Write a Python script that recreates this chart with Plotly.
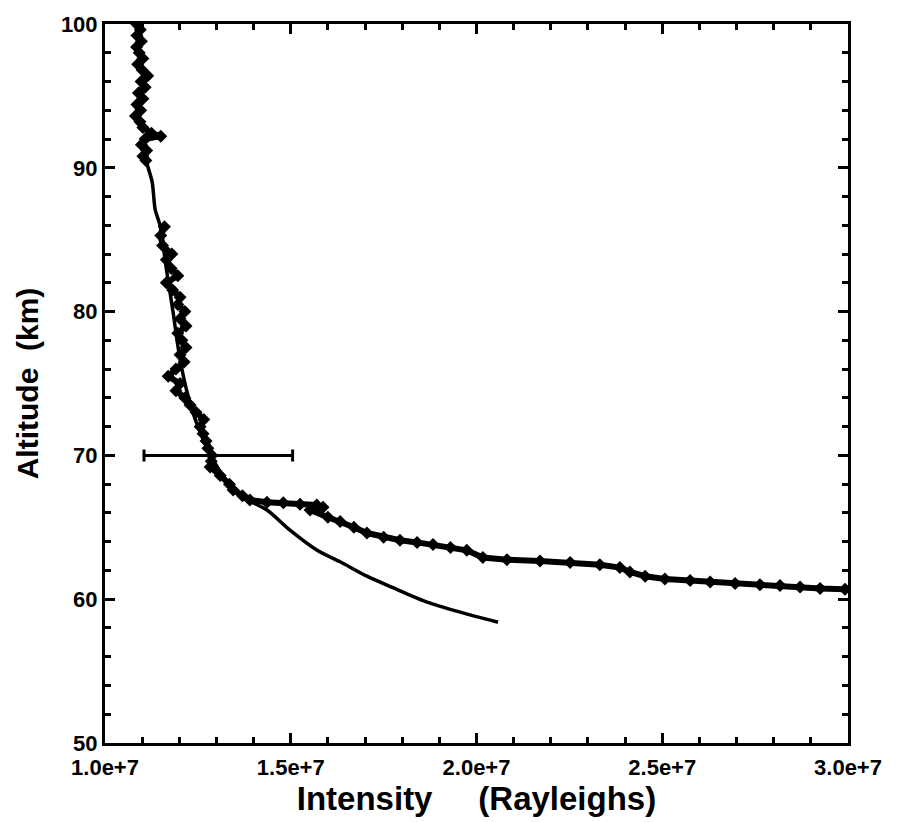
import plotly.graph_objects as go

# Measured profile (upper segment), intensity in Rayleighs, altitude in km
meas_upper_alt = [100.0, 99.6, 99.2, 98.8, 98.4, 98.0, 97.6, 97.2, 96.8, 96.4, 96.0, 95.6,
                  95.2, 94.8, 94.4, 94.0, 93.6, 93.2, 92.8, 92.4, 92.2, 92.0, 91.6, 91.2,
                  90.8, 90.5]
meas_upper_int = [1.085e7, 1.095e7, 1.086e7, 1.098e7, 1.085e7, 1.092e7, 1.102e7, 1.088e7,
                  1.100e7, 1.115e7, 1.097e7, 1.108e7, 1.090e7, 1.102e7, 1.086e7, 1.096e7,
                  1.082e7, 1.094e7, 1.102e7, 1.125e7, 1.150e7, 1.108e7, 1.098e7, 1.112e7,
                  1.102e7, 1.110e7]

# Measured profile (lower segment)
meas_lower_alt = [85.9, 85.3, 84.6, 84.0, 83.6, 83.0, 82.5, 82.0, 81.5, 81.0, 80.5, 80.0,
                  79.5, 79.0, 78.5, 78.0, 77.5, 77.0, 76.5, 76.0, 75.5, 75.0, 74.5, 74.0,
                  73.5, 73.0, 72.5, 72.0, 71.5, 71.0, 70.5, 70.0, 69.6, 69.2, 68.6, 68.0,
                  67.6, 67.2, 66.9, 66.75, 66.7, 66.6, 66.55, 66.4, 66.2, 65.7, 65.4, 65.0,
                  64.6, 64.3, 64.1, 63.95, 63.8, 63.6, 63.4, 62.9, 62.75, 62.65, 62.55, 62.4,
                  62.2, 61.9, 61.6, 61.4, 61.3, 61.2, 61.1, 61.0, 60.95, 60.85, 60.75, 60.7]
meas_lower_int = [1.160e7, 1.150e7, 1.155e7, 1.180e7, 1.165e7, 1.178e7, 1.196e7, 1.165e7,
                  1.182e7, 1.202e7, 1.196e7, 1.215e7, 1.202e7, 1.218e7, 1.196e7, 1.207e7,
                  1.218e7, 1.202e7, 1.213e7, 1.191e7, 1.170e7, 1.202e7, 1.191e7, 1.215e7,
                  1.229e7, 1.245e7, 1.266e7, 1.256e7, 1.264e7, 1.272e7, 1.277e7, 1.288e7,
                  1.286e7, 1.283e7, 1.310e7, 1.335e7, 1.345e7, 1.370e7, 1.390e7, 1.436e7,
                  1.480e7, 1.525e7, 1.570e7, 1.587e7, 1.552e7, 1.600e7, 1.633e7, 1.670e7,
                  1.705e7, 1.750e7, 1.794e7, 1.840e7, 1.883e7, 1.930e7, 1.974e7, 2.017e7,
                  2.082e7, 2.171e7, 2.252e7, 2.332e7, 2.386e7, 2.413e7, 2.454e7, 2.507e7,
                  2.575e7, 2.629e7, 2.696e7, 2.763e7, 2.817e7, 2.871e7, 2.925e7, 2.992e7]

# Model profile (smooth curve)
model_alt = [91.0, 90.3, 89.0, 87.1, 86.0, 83.0, 80.0, 77.0, 74.5, 72.0, 70.0, 68.5,
             67.1, 66.2, 64.8, 63.4, 62.6, 61.6, 60.8, 59.8, 59.1, 58.4]
model_int = [1.108e7, 1.113e7, 1.127e7, 1.135e7, 1.148e7, 1.165e7, 1.183e7, 1.200e7,
             1.220e7, 1.250e7, 1.285e7, 1.320e7, 1.371e7, 1.436e7, 1.498e7, 1.571e7,
             1.633e7, 1.705e7, 1.775e7, 1.867e7, 1.956e7, 2.058e7]

# Error bar at 70 km
err_alt = [70.0]
err_int = [1.305e7]
err_half = [0.2e7]

x_tickvals = [1.0e7, 1.5e7, 2.0e7, 2.5e7, 3.0e7]
x_ticktext = ["1.0e+7", "1.5e+7", "2.0e+7", "2.5e+7", "3.0e+7"]
y_tickvals = [50, 60, 70, 80, 90, 100]
x_range = [1.0e7, 3.0e7]
y_range = [50, 100]

fig = go.Figure()

fig.add_trace(go.Scatter(x=model_int, y=model_alt, mode="lines",
                         line=dict(color="black", width=3.5, shape="spline", smoothing=0.8),
                         showlegend=False))
for xs, ys in [(meas_upper_int, meas_upper_alt), (meas_lower_int, meas_lower_alt)]:
    fig.add_trace(go.Scatter(x=xs, y=ys, mode="lines+markers",
                             line=dict(color="black", width=6),
                             marker=dict(symbol="diamond", size=10, color="black"),
                             showlegend=False))
fig.add_trace(go.Scatter(x=err_int, y=err_alt, mode="markers",
                         marker=dict(size=1, color="black"),
                         error_x=dict(type="data", array=err_half, color="black",
                                      thickness=3, width=6),
                         showlegend=False))

font_b = dict(family="Liberation Sans, Arial, sans-serif", color="black", weight="bold")
tick_common = dict(ticks="inside", ticklen=10, tickwidth=3, tickcolor="black",
                   showgrid=False, zeroline=False, showline=True, linecolor="black",
                   linewidth=3, mirror="allticks")

fig.update_layout(
    width=901, height=822,
    margin=dict(l=105, r=53, t=19, b=77),
    paper_bgcolor="white", plot_bgcolor="white",
    font=font_b,
    xaxis=dict(range=x_range, tickvals=x_tickvals, ticktext=x_ticktext,
               tickfont=dict(size=22, **font_b), ticklabelstandoff=3,
               minor=dict(dtick=1e6, tick0=1e7, ticks="inside", ticklen=6, tickwidth=2.5,
                          tickcolor="black"),
               title=dict(text="Intensity     (Rayleighs)", font=dict(size=33, **font_b),
                          standoff=6),
               **tick_common),
    yaxis=dict(range=y_range, tickvals=y_tickvals,
               tickfont=dict(size=22, **font_b),
               minor=dict(dtick=2, tick0=50, ticks="inside", ticklen=6, tickwidth=2.5,
                          tickcolor="black"),
               title=dict(text="Altitude  (km)", font=dict(size=30, **font_b), standoff=14),
               **tick_common),
)

fig.write_html("out.html")
